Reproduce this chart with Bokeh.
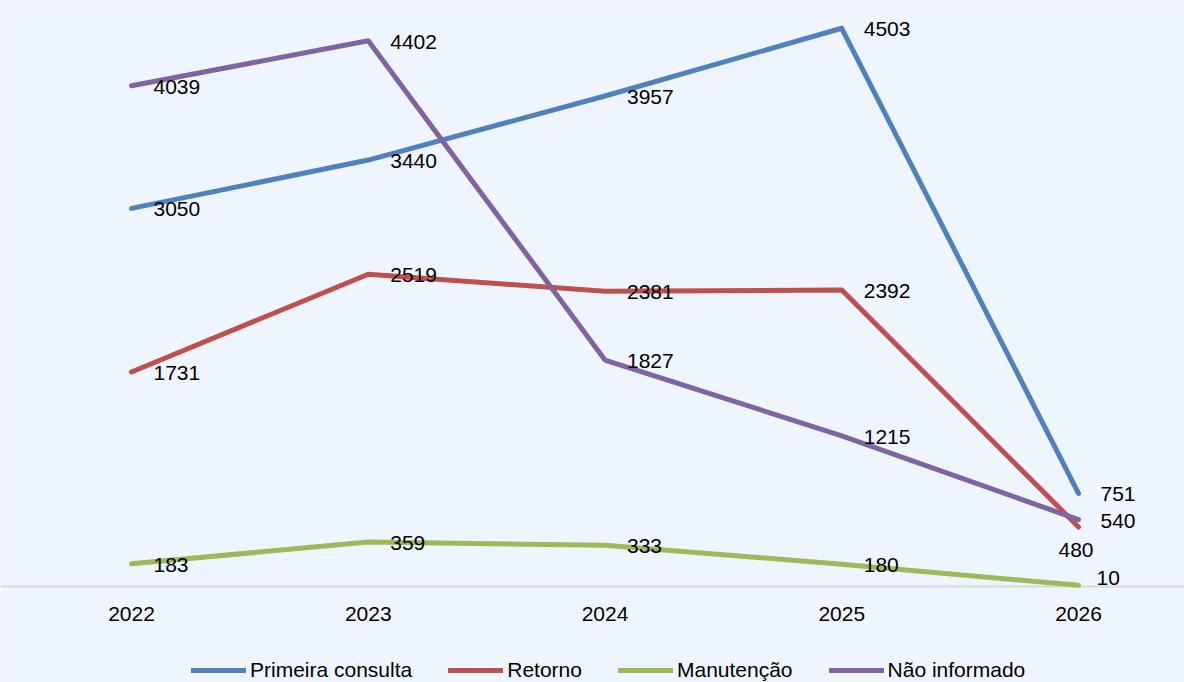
from bokeh.plotting import figure
from bokeh.models import Range1d, ColumnDataSource, Legend, LegendItem, Span
from bokeh.core.properties import value
from bokeh.embed import file_html
from bokeh.resources import INLINE

years = ["2022", "2023", "2024", "2025", "2026"]
series_names = ["Primeira consulta", "Retorno", "Manutenção", "Não informado"]
primeira = [3050, 3440, 3957, 4503, 751]
retorno = [1731, 2519, 2381, 2392, 480]
manutencao = [183, 359, 333, 180, 10]
nao_informado = [4039, 4402, 1827, 1215, 540]

colors = ["#4F81BD", "#C0504D", "#9BBB59", "#8064A2"]
BG = "#EEF5FF"
FONT = "Liberation Sans"
FS = "21px"

xs = list(range(len(years)))

p = figure(
    output_backend="svg", toolbar_location=None,
    width=1184, height=682,
    x_range=Range1d(-0.5533, 4.4477), y_range=Range1d(-774, 4727),
    x_axis_location=None, y_axis_location=None,
    min_border_left=0, min_border_right=0, min_border_top=0, min_border_bottom=0,
    background_fill_color=BG, border_fill_color=BG,
)
p.outline_line_color = None
p.grid.visible = False

# category baseline (axis line)
p.add_layout(Span(location=0, dimension="width", line_color="#D9D9D9",
                  line_width=2, level="underlay"))

all_series = [primeira, retorno, manutencao, nao_informado]
renderers = []
for vals, c in zip(all_series, colors):
    r = p.line(xs, vals, line_color=c, line_width=5, line_cap="round", line_join="round")
    renderers.append(r)

# category tick labels, placed a fixed screen distance below the baseline
tick_src = ColumnDataSource(dict(x=xs, y=[0] * len(xs), t=years))
p.text("x", "y", text="t", source=tick_src, y_offset=27,
       text_font=value(FONT), text_font_size=FS, text_color="#000000",
       text_align="center", text_baseline="middle")

# data labels: default offset (style), with exceptions for crowded points
lx, ly, lt, xo, yo = [], [], [], [], []
special = {(1, 4): (-20, 23), (2, 4): (18, -7)}
for si, vals in enumerate(all_series):
    for i, v in enumerate(vals):
        lx.append(xs[i]); ly.append(v); lt.append(str(v))
        o = special.get((si, i), (22, 1))
        xo.append(o[0]); yo.append(o[1])
src = ColumnDataSource(dict(x=lx, y=ly, t=lt, xo=xo, yo=yo))
p.text("x", "y", text="t", source=src, x_offset="xo", y_offset="yo",
       text_font=value(FONT), text_font_size=FS, text_color="#000000",
       text_align="left", text_baseline="middle")

legend = Legend(
    items=[LegendItem(label=n, renderers=[r]) for n, r in zip(series_names, renderers)],
    orientation="horizontal", location=(191, 0),
    glyph_width=55, glyph_height=20, label_height=20, label_standoff=4, spacing=36,
    label_text_font=FONT, label_text_font_size=FS, label_text_color="#000000",
    background_fill_alpha=0, border_line_color=None, padding=0, margin=0,
)
p.add_layout(legend, "center")

open("out.html", "w").write(file_html(p, INLINE))
